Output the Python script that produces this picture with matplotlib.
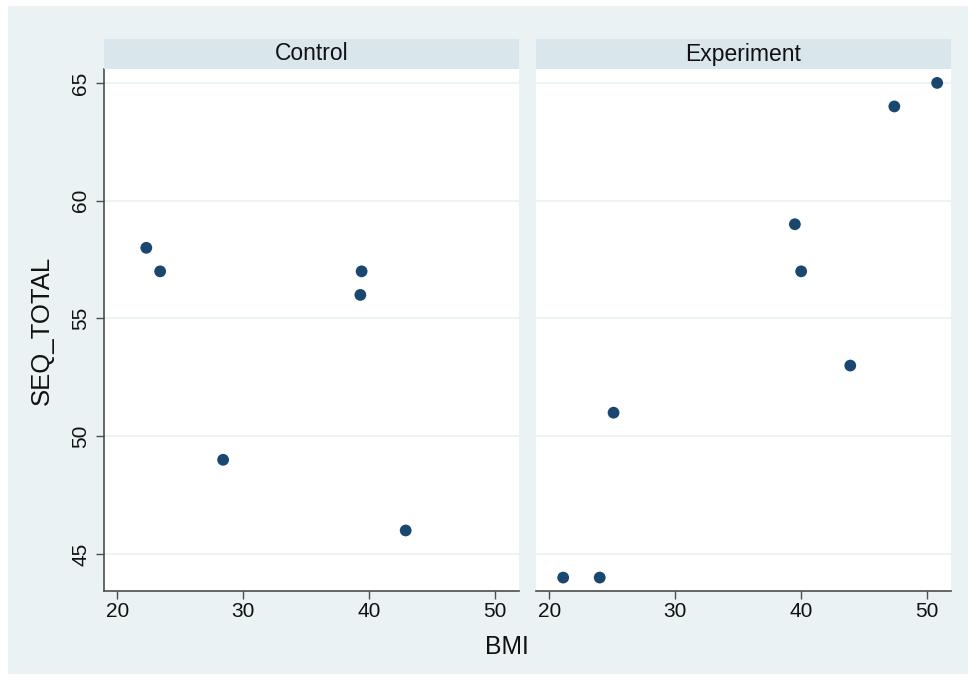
import matplotlib
matplotlib.use("Agg")
import matplotlib.pyplot as plt
from matplotlib.patches import Rectangle

plt.rcParams['font.family'] = ['Liberation Sans', 'DejaVu Sans']

groups = ["Control", "Experiment"]
control_bmi = [22.3, 23.4, 39.4, 39.3, 28.4, 42.9]
control_seq = [58, 57, 57, 56, 49, 46]
experiment_bmi = [50.8, 47.4, 39.5, 40.0, 43.9, 25.1, 21.1, 24.0]
experiment_seq = [65, 64, 59, 57, 53, 51, 44, 44]
x_ticks = [20, 30, 40, 50]
y_ticks = [45, 50, 55, 60, 65]
x_label = "BMI"
y_label = "SEQ_TOTAL"

W, H = 972, 682
BG = "#eaf2f3"
STRIP = "#d9e6eb"
MARK = "#1a476f"
AXC = "#4d4d4d"

fig = plt.figure(figsize=(W / 100, H / 100), dpi=100)
fig.patch.set_facecolor("white")
fig.patches.append(Rectangle((8 / W, 1 - 674 / H), 960 / W, 668 / H,
                             transform=fig.transFigure, facecolor=BG,
                             edgecolor="none", zorder=-10))

def px(x0, y0, w, h):
    return [x0 / W, 1 - (y0 + h) / H, w / W, h / H]

data = [(control_bmi, control_seq), (experiment_bmi, experiment_seq)]
lefts = [104, 536]
for i, (g, (xs, ys), x0) in enumerate(zip(groups, data, lefts)):
    ax = fig.add_axes(px(x0, 69, 415, 522))
    ax.set_facecolor("white")
    ax.set_xlim(18.94, 51.9)
    ax.set_ylim(43.43, 65.59)
    ax.set_yticks(y_ticks)
    ax.set_xticks(x_ticks)
    for yv in y_ticks:
        ax.axhline(yv, color=BG, lw=1.3, zorder=1)
    ax.scatter(xs, ys, s=72, color=MARK, edgecolors="none", zorder=3)
    for s in ["top", "right"]:
        ax.spines[s].set_visible(False)
    ax.spines["bottom"].set_color(AXC)
    ax.spines["bottom"].set_linewidth(1.2)
    ax.tick_params(axis="x", length=6, width=1.0, color=AXC, pad=2,
                   labelsize=15, labelcolor="#111111")
    if i == 0:
        ax.spines["left"].set_color(AXC)
        ax.spines["left"].set_linewidth(1.2)
        ax.tick_params(axis="y", length=6, width=1.0, color=AXC, pad=4,
                       labelsize=15, labelcolor="#111111")
        for lab in ax.get_yticklabels():
            lab.set_rotation(90)
            lab.set_va("center")
    else:
        ax.spines["left"].set_visible(False)
        ax.tick_params(axis="y", left=False, labelleft=False)
    sax = fig.add_axes(px(x0, 39, 415, 30))
    sax.set_facecolor(STRIP)
    sax.set_xticks([])
    sax.set_yticks([])
    for s in sax.spines.values():
        s.set_visible(False)
    sax.text(0.5, 0.5, g, ha="center", va="center", fontsize=16.5,
             color="#111111", transform=sax.transAxes)

fig.text(42 / W, 1 - 330 / H, y_label, rotation=90, ha="center", va="center",
         fontsize=18.5, color="#111111")
fig.text(507 / W, 1 - 647 / H, x_label, ha="center", va="center",
         fontsize=17.8, color="#111111")

fig.savefig("out.png", dpi=100, facecolor="white")
